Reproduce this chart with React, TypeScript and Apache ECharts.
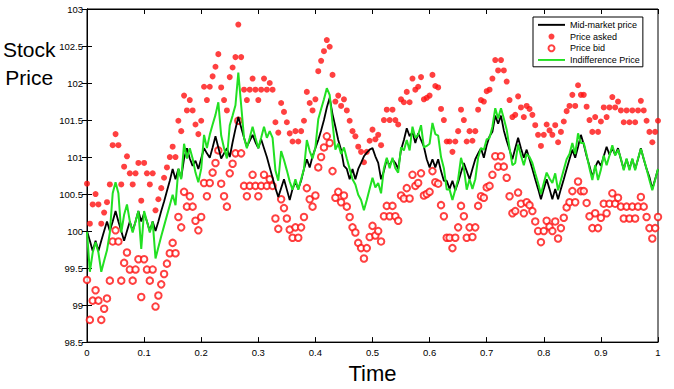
import React, { useEffect, useRef } from "react";
import * as echarts from "echarts";

const STEP = 0.005;

const askPrices = [
  100.64, 100.10, 100.36, 100.50, 100.36, 100.10, 100.25, 100.39, 100.63, 101.16,
  101.31, 101.16, 100.63, 100.87, 101.01, 100.78, 100.63, 100.78, 100.92, 100.41,
  100.92, 100.78, 100.63, 100.78, 100.28, 100.43, 100.58, 100.72, 100.86, 101.00,
  101.14, 101.00, 101.49, 101.35, 101.83, 101.63, 101.77, 101.63, 101.44, 101.31,
  101.49, 101.95, 101.77, 101.95, 102.09, 102.22, 102.39, 101.94, 101.77, 101.63,
  102.08, 102.21, 102.35, 102.79, 102.35, 101.91, 101.77, 101.91, 102.06, 101.91,
  101.77, 101.91, 102.06, 101.91, 102.00, 101.91, 101.47, 101.33, 101.73, 101.61,
  101.47, 101.32, 101.21, 101.35, 101.21, 101.35, 101.49, 101.88, 101.73, 101.63,
  101.78, 102.16, 102.30, 102.43, 102.58, 102.49, 102.11, 101.75, 101.83, 101.69,
  101.78, 101.63, 101.49, 101.35, 101.28, 101.14, 101.07, 100.93, 101.07, 101.22,
  101.37, 101.24, 101.30, 101.16, 101.50, 101.64, 101.50, 101.64, 101.50, 101.44,
  101.78, 101.74, 101.88, 101.74, 102.06, 101.91, 101.95, 102.08, 101.78, 101.80,
  101.83, 102.11, 101.96, 101.94, 101.65, 101.50, 101.21, 101.21, 101.07, 101.21,
  101.35, 101.64, 101.50, 101.21, 101.35, 101.22, 101.35, 101.64, 101.77, 101.75,
  101.89, 101.91, 102.06, 102.31, 102.17, 102.31, 102.17, 102.02, 101.77, 101.54,
  101.57, 101.82, 101.67, 101.54, 101.69, 101.65, 101.57, 101.43, 101.30, 101.15,
  101.30, 101.44, 101.36, 101.30, 101.43, 101.20, 101.34, 101.48, 101.62, 101.69,
  101.84, 101.69, 101.97, 101.84, 101.84, 101.68, 101.50, 101.34, 101.54, 101.34,
  101.48, 101.67, 101.54, 101.67, 101.81, 101.67, 101.75, 101.63, 101.47, 101.63,
  101.47, 101.63, 101.47, 101.63, 101.76, 101.63, 101.49, 101.34, 101.20, 101.34,
  101.49,
];

const bidPrices = [
  99.34, 98.80, 99.06, 99.20, 99.06, 98.80, 98.95, 99.09, 99.33, 99.86,
  100.01, 99.86, 99.33, 99.57, 99.71, 99.48, 99.33, 99.48, 99.62, 99.11,
  99.62, 99.48, 99.33, 99.48, 98.98, 99.13, 99.28, 99.42, 99.56, 99.70,
  99.84, 99.70, 100.19, 100.05, 100.53, 100.33, 100.47, 100.33, 100.14, 100.01,
  100.19, 100.65, 100.47, 100.65, 100.79, 100.92, 101.09, 100.64, 100.47, 100.33,
  100.78, 100.91, 101.05, 101.49, 101.05, 100.61, 100.47, 100.61, 100.76, 100.61,
  100.47, 100.61, 100.76, 100.61, 100.70, 100.61, 100.17, 100.03, 100.43, 100.31,
  100.17, 100.02, 99.91, 100.05, 99.91, 100.05, 100.19, 100.58, 100.43, 100.33,
  100.48, 100.86, 101.00, 101.13, 101.28, 101.19, 100.81, 100.45, 100.53, 100.39,
  100.48, 100.33, 100.19, 100.05, 99.98, 99.84, 99.77, 99.63, 99.77, 99.92,
  100.07, 99.94, 100.00, 99.86, 100.20, 100.34, 100.20, 100.34, 100.20, 100.14,
  100.48, 100.44, 100.58, 100.44, 100.76, 100.61, 100.65, 100.78, 100.48, 100.50,
  100.53, 100.81, 100.66, 100.64, 100.35, 100.20, 99.91, 99.91, 99.77, 99.91,
  100.05, 100.34, 100.20, 99.91, 100.05, 99.92, 100.05, 100.34, 100.47, 100.45,
  100.59, 100.61, 100.76, 101.01, 100.87, 101.01, 100.87, 100.72, 100.47, 100.24,
  100.27, 100.52, 100.37, 100.24, 100.39, 100.35, 100.27, 100.13, 100.00, 99.85,
  100.00, 100.14, 100.06, 100.00, 100.13, 99.90, 100.04, 100.18, 100.32, 100.39,
  100.54, 100.39, 100.67, 100.54, 100.54, 100.38, 100.20, 100.04, 100.24, 100.04,
  100.18, 100.37, 100.24, 100.37, 100.51, 100.37, 100.45, 100.33, 100.17, 100.33,
  100.17, 100.33, 100.17, 100.33, 100.46, 100.33, 100.19, 100.04, 99.90, 100.04,
  100.19,
];

const indifferencePrices = [
  99.99, 99.45, 99.71, 99.85, 99.71, 99.45, 99.60, 99.74, 99.98, 100.51,
  100.66, 100.51, 99.98, 100.22, 100.36, 100.13, 99.98, 100.13, 100.27, 99.76,
  100.27, 100.13, 99.98, 100.13, 99.63, 99.78, 99.93, 100.07, 100.21, 100.35,
  100.49, 100.35, 100.84, 100.70, 101.18, 100.98, 101.12, 100.98, 100.79, 100.66,
  100.84, 101.30, 101.12, 101.30, 101.44, 101.57, 101.74, 101.29, 101.12, 100.98,
  101.43, 101.56, 101.70, 102.14, 101.70, 101.26, 101.12, 101.26, 101.41, 101.26,
  101.12, 101.26, 101.41, 101.26, 101.35, 101.26, 100.82, 100.68, 101.08, 100.96,
  100.82, 100.67, 100.56, 100.70, 100.56, 100.70, 100.84, 101.23, 101.08, 100.98,
  101.13, 101.51, 101.65, 101.78, 101.93, 101.84, 101.46, 101.10, 101.18, 101.04,
  101.13, 100.98, 100.84, 100.70, 100.63, 100.49, 100.42, 100.28, 100.42, 100.57,
  100.72, 100.59, 100.65, 100.51, 100.85, 100.99, 100.85, 100.99, 100.85, 100.79,
  101.13, 101.09, 101.23, 101.09, 101.41, 101.26, 101.30, 101.43, 101.13, 101.15,
  101.18, 101.46, 101.31, 101.29, 101.00, 100.85, 100.56, 100.56, 100.42, 100.56,
  100.70, 100.99, 100.85, 100.56, 100.70, 100.57, 100.70, 100.99, 101.12, 101.10,
  101.24, 101.26, 101.41, 101.66, 101.52, 101.66, 101.52, 101.37, 101.12, 100.89,
  100.92, 101.17, 101.02, 100.89, 101.04, 101.00, 100.92, 100.78, 100.65, 100.50,
  100.65, 100.79, 100.71, 100.65, 100.78, 100.55, 100.69, 100.83, 100.97, 101.04,
  101.19, 101.04, 101.32, 101.19, 101.19, 101.03, 100.85, 100.69, 100.89, 100.69,
  100.83, 101.02, 100.89, 101.02, 101.16, 101.02, 101.10, 100.98, 100.82, 100.98,
  100.82, 100.98, 100.82, 100.98, 101.11, 100.98, 100.84, 100.69, 100.55, 100.69,
  100.84,
];

const midPrices = [
  100.00, 99.87, 99.73, 99.87, 99.73, 99.87, 100.00, 100.13, 100.00, 100.13,
  100.27, 100.13, 100.00, 99.87, 100.00, 100.13, 100.00, 100.13, 100.27, 100.13,
  100.24, 100.13, 100.00, 100.13, 100.00, 100.13, 100.27, 100.40, 100.54, 100.68,
  100.84, 100.70, 100.84, 100.72, 100.98, 101.12, 100.98, 100.88, 100.95, 100.84,
  100.98, 101.12, 101.05, 100.99, 101.13, 101.28, 101.13, 100.98, 101.05, 101.12,
  101.00, 101.20, 101.38, 101.54, 101.40, 101.26, 101.14, 101.22, 101.30, 101.20,
  101.12, 101.24, 101.12, 101.00, 100.86, 100.72, 100.58, 100.46, 100.58, 100.70,
  100.56, 100.42, 100.57, 100.66, 100.57, 100.68, 100.84, 100.97, 100.86, 101.01,
  101.12, 101.23, 101.36, 101.50, 101.67, 101.80, 101.58, 101.41, 101.23, 101.10,
  100.88, 100.84, 100.70, 100.84, 100.70, 100.84, 100.92, 101.01, 101.06, 101.10,
  101.12, 101.01, 100.92, 100.70, 100.81, 100.97, 100.88, 100.97, 100.92, 100.84,
  101.10, 101.23, 101.39, 101.28, 101.34, 101.19, 101.32, 101.23, 101.14, 100.97,
  100.86, 100.97, 100.86, 100.97, 100.81, 100.68, 100.68, 100.57, 100.68, 100.55,
  100.66, 100.79, 100.92, 100.81, 100.70, 100.84, 100.97, 101.05, 101.12, 100.99,
  101.16, 101.28, 101.34, 101.56, 101.45, 101.56, 101.36, 101.22, 101.10, 100.97,
  101.12, 101.26, 101.12, 100.99, 101.10, 100.97, 100.84, 100.70, 100.57, 100.43,
  100.57, 100.70, 100.57, 100.43, 100.57, 100.43, 100.57, 100.70, 100.84, 100.97,
  101.10, 100.99, 101.14, 101.30, 101.17, 101.01, 100.88, 100.73, 100.86, 100.95,
  100.88, 101.01, 101.14, 101.03, 101.12, 101.03, 101.12, 100.97, 100.84, 100.97,
  100.84, 100.97, 100.84, 100.97, 101.12, 100.97, 100.84, 100.73, 100.57, 100.70,
  100.84,
];

const times = midPrices.map((_, i) => Number((i * STEP).toFixed(3)));
const pairs = (vals: number[]) => vals.map((v, i) => [times[i], v]);

const FONT = "'Liberation Sans', Arial, Helvetica, sans-serif";
const RED = "#ff1010";
const GREEN = "#22e022";
const LINE_ICON = "path://M0,0 L28,0 L28,2 L0,2 Z";

export default function App() {
  const ref = useRef<HTMLDivElement>(null);
  useEffect(() => {
    if (!ref.current) return;
    const chart = echarts.init(ref.current, undefined, { renderer: "svg" });
    const tickStyle = { show: true, inside: true, length: 5, lineStyle: { color: "#000", width: 1 } };
    const lineStyle = { show: true, lineStyle: { color: "#000", width: 1 } };
    chart.setOption({
      animation: false,
      backgroundColor: "#fff",
      grid: { left: 87, right: 16, top: 9, bottom: 39, show: true, borderColor: "#000", borderWidth: 1, backgroundColor: "transparent" },
      legend: {
        orient: "vertical",
        left: 533,
        top: 17,
        align: "left",
        backgroundColor: "#fff",
        borderColor: "#000",
        borderWidth: 1,
        padding: [2, 3, 1, 5],
        itemGap: 0,
        itemWidth: 27,
        itemHeight: 6,
        textStyle: { fontFamily: FONT, fontSize: 9, color: "#000", lineHeight: 11.7 },
        data: [
          { name: "Mid-market price", icon: LINE_ICON, itemStyle: { color: "#000" } },
          { name: "Price asked" },
          { name: "Price bid" },
          { name: "Indifference Price", icon: LINE_ICON, itemStyle: { color: GREEN } },
        ],
      },
      graphic: [
        {
          type: "text",
          left: 3,
          top: 36,
          style: { text: "Stock\nPrice", font: `21px ${FONT}`, fill: "#000", lineHeight: 27.6, textAlign: "center" },
        },
      ],
      xAxis: [
        {
          type: "value", min: 0, max: 1, interval: 0.1, position: "bottom",
          axisLine: lineStyle, axisTick: tickStyle, splitLine: { show: false },
          axisLabel: { fontFamily: FONT, fontSize: 9.5, color: "#000", margin: 5 },
          name: "Time", nameLocation: "middle", nameGap: 17,
          nameTextStyle: { fontFamily: FONT, fontSize: 22, color: "#000" },
        },
        {
          type: "value", min: 0, max: 1, interval: 0.1, position: "top",
          axisLine: lineStyle, axisTick: tickStyle, splitLine: { show: false }, axisLabel: { show: false },
        },
      ],
      yAxis: [
        {
          type: "value", min: 98.5, max: 103, interval: 0.5, position: "left",
          axisLine: lineStyle, axisTick: tickStyle, splitLine: { show: false },
          axisLabel: { fontFamily: FONT, fontSize: 9.5, color: "#000", margin: 4 },
        },
        {
          type: "value", min: 98.5, max: 103, interval: 0.5, position: "right",
          axisLine: lineStyle, axisTick: tickStyle, splitLine: { show: false }, axisLabel: { show: false },
        },
      ],
      series: [
        {
          name: "Mid-market price", type: "line", data: pairs(midPrices), symbol: "none",
          lineStyle: { color: "#000", width: 1.8 }, itemStyle: { color: "#000" },
        },
        {
          name: "Price asked", type: "scatter", data: pairs(askPrices), symbol: "circle", symbolSize: 6,
          itemStyle: { color: RED },
        },
        {
          name: "Price bid", type: "scatter", data: pairs(bidPrices), symbol: "emptyCircle", symbolSize: 6.5,
          itemStyle: { color: RED, borderColor: RED, borderWidth: 1.7 },
        },
        {
          name: "Indifference Price", type: "line", data: pairs(indifferencePrices), symbol: "none",
          lineStyle: { color: GREEN, width: 2 }, itemStyle: { color: GREEN },
        },
      ],
    });
    return () => chart.dispose();
  }, []);
  return <div ref={ref} style={{ position: "fixed", left: 0, top: 0, width: 674, height: 389 }} />;
}
